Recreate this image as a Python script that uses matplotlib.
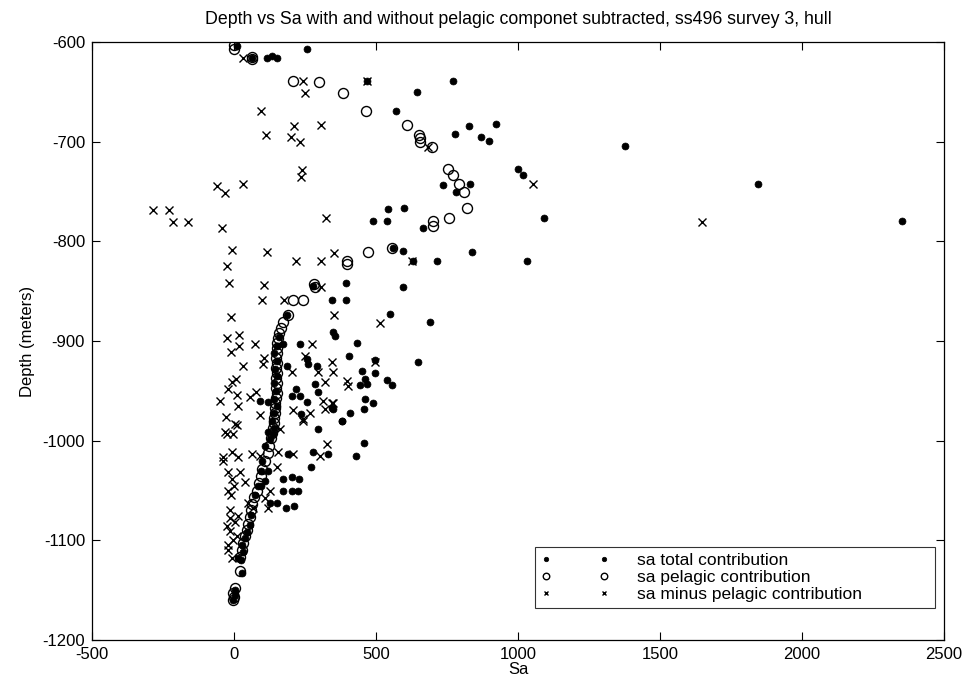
import matplotlib
matplotlib.use("Agg")
import matplotlib.pyplot as plt

plt.rcParams['font.family'] = ['Liberation Sans', 'DejaVu Sans']
plt.rcParams['axes.unicode_minus'] = False

# Total Sa per depth cell
total_depth = [
    -604, -607, -616, -616, -614, -616, -639, -639, -650, -669, -684, -682,
    -692, -695, -699, -704, -727, -733, -743, -742, -742, -751, -768, -767,
    -777, -780, -780, -780, -787, -807, -810, -811, -820, -820, -820,
    -842, -846, -845, -859, -859, -874, -873, -881,
    -891, -895, -902, -903, -903, -915, -921, -919, -918, -923, -925, -925,
    -930, -938, -943, -932, -939, -944, -944, -943,
    -951, -948, -955, -955, -961, -967, -958, -962, -968, -972, -980, -973,
    -960, -961, -968, -988, -980, -991, -993,
    -1002, -1015, -1013, -1011, -1013,
    -1026, -1038, -1036, -1038, -1051, -1051, -1050, -1063, -1063, -1068, -1066,
    -1105, -1118, -1133, -1150, -1160, -1155,
    -896, -905, -912, -920, -928, -935, -942, -950, -958, -965, -972, -980,
    -987, -998, -1005, -1020, -1030, -1045, -1055, -1075, -1085, -1092, -1098,
    -1112, -1120, -1030, -1040, -1045,
]
total_sa = [
    10, 257, 62, 115, 133, 152, 467, 772, 645, 570, 826, 923,
    777, 869, 899, 1377, 1001, 1016, 737, 831, 1844, 782, 543, 599,
    1093, 491, 540, 2353, 667, 559, 596, 837, 631, 714, 1031,
    393, 594, 279, 344, 393, 188, 549, 690,
    347, 356, 434, 232, 174, 405, 647, 496, 256, 262, 185, 293,
    449, 461, 467, 496, 540, 555, 444, 285,
    297, 220, 203, 232, 256, 344, 461, 488, 458, 408, 381, 235,
    92, 121, 347, 297, 379, 121, 138,
    458, 430, 191, 279, 332,
    271, 174, 203, 230, 174, 203, 226, 127, 150, 183, 212,
    27, 15, 27, 4, -2, 2,
    160, 150, 140, 150, 145, 150, 140, 148, 140, 150, 142, 135,
    140, 125, 110, 100, 95, 85, 75, 60, 55, 45, 40,
    30, 25, 120, 110, 95,
]

# Pelagic Sa per depth cell
pelagic_depth = [
    -603, -607, -615, -617, -639, -640, -651, -669, -683,
    -693, -696, -700, -705, -727, -733, -742, -751, -767,
    -777, -780, -785, -807, -811, -820, -823, -843, -846,
    -859, -859, -874, -881,
    -887, -892, -897, -902, -907, -912, -917, -922, -927, -932, -937, -942,
    -947, -952, -957, -962, -967, -972, -977, -982, -987, -992, -997,
    -1005, -1012, -1020, -1028, -1035, -1042, -1050, -1057, -1064, -1070,
    -1077, -1084, -1090, -1096, -1103, -1110, -1117,
    -1131, -1148, -1153, -1157, -1160,
]
pelagic_sa = [
    0, 0, 62, 62, 209, 300, 385, 464, 608,
    652, 655, 655, 696, 752, 772, 793, 810, 822,
    758, 700, 702, 555, 473, 397, 397, 282, 285,
    209, 242, 191, 171,
    165, 160, 155, 152, 150, 150, 148, 150, 148, 150, 148, 150,
    148, 150, 148, 146, 145, 145, 142, 140, 138, 135, 130,
    122, 118, 110, 100, 95, 88, 80, 72, 65, 60,
    55, 50, 45, 40, 33, 28, 22,
    21, 4, -2, 0, -2,
]

# Total minus pelagic Sa per depth cell
minus_depth = [
    -616, -639, -639, -651, -669, -684, -683,
    -693, -695, -700, -705, -728, -735,
    -744, -742, -742, -752, -769, -769,
    -777, -781, -781, -781, -787,
    -809, -811, -812, -820, -820, -820, -825,
    -842, -844, -846, -859, -859, -876, -874, -882,
    -897, -894, -905, -903, -903,
    -911, -915, -917, -923, -925, -921, -921,
    -931, -931, -941, -931, -940, -945, -938, -941, -948,
    -954, -965, -960, -956, -951, -960, -962, -968, -969, -978, -972, -974,
    -976, -962,
    -988, -983, -991, -993, -984, -993, -980,
    -1011, -1016, -1016, -1020, -1013, -1015, -1011, -1013, -1015, -1003,
    -1031, -1031, -1038, -1041, -1050, -1050, -1026, -1068, -1058, -1063, -1068,
    -1070, -1076, -1086, -1091, -1096, -1105, -1118, -1078, -1110,
    -1045, -1055, -1082, -1100,
]
minus_sa = [
    33, 244, 470, 250, 95, 211, 305,
    114, 201, 232, 683, 241, 235,
    -61, 33, 1054, -32, -284, -230,
    323, -216, -163, 1648, -41,
    -6, 115, 353, 217, 306, 625, -26,
    -16, 107, 306, 97, 176, -11, 353, 514,
    -26, 19, 19, 74, 273,
    -11, 250, 106, 101, 33, 346, 496,
    203, 297, 320, 350, 397, 402, 7, -8, -20,
    12, 15, -49, 56, 77, 315, 344, 320, 206, 244, 268, 92,
    -28, 347,
    162, 4, -32, -2, 9, -26, 244,
    -8, -38, 15, -38, 62, 92, 156, 209, 303, 326,
    -20, 21, -8, 39, -20, 127, 150, 121, 109, 50, 68,
    -14, 15, -26, -14, 9, -20, -8, -14, -20,
    0, -10, 5, -5,
]

x_ticks = [-500, 0, 500, 1000, 1500, 2000, 2500]
y_ticks = [-1200, -1100, -1000, -900, -800, -700, -600]

fig = plt.figure(figsize=(9.69, 6.87), dpi=100)
ax = fig.add_axes([92 / 969, 1 - 640 / 687, (944 - 92) / 969, (640 - 42) / 687])

ax.plot(total_sa, total_depth, linestyle='none', marker='o', markersize=5.0,
        markerfacecolor='black', markeredgecolor='black', markeredgewidth=0.5,
        label='sa total contribution')
ax.plot(pelagic_sa, pelagic_depth, linestyle='none', marker='o', markersize=7.2,
        markerfacecolor='none', markeredgecolor='black', markeredgewidth=1.0,
        label='sa pelagic contribution')
ax.plot(minus_sa, minus_depth, linestyle='none', marker='x', markersize=5.2,
        markeredgecolor='black', markeredgewidth=1.0,
        label='sa minus pelagic contribution')

ax.set_xlim(-500, 2500)
ax.set_ylim(-1200, -600)
ax.set_xticks(x_ticks)
ax.set_yticks(y_ticks)
ax.tick_params(direction='in', length=6, width=0.8, top=True, right=True,
               labelsize=12, colors='black', pad=5)
for s in ax.spines.values():
    s.set_linewidth(0.9)
    s.set_color('black')

ax.set_title('Depth vs Sa with and without pelagic componet subtracted, ss496 survey 3, hull',
             fontsize=12.8, pad=13)
ax.set_xlabel('Sa', fontsize=12, labelpad=0)
ax.set_ylabel('Depth (meters)', fontsize=12, labelpad=5)

leg = ax.legend(loc='lower left', bbox_to_anchor=(443 / 852, 32 / 598, 400 / 852, 0.1),
                mode='expand', numpoints=2, markerscale=0.65, fontsize=12.5,
                frameon=True, fancybox=False, handlelength=3.94,
                handletextpad=1.6, labelspacing=0.1, borderpad=0.35,
                borderaxespad=0.0)
leg.get_frame().set_edgecolor('black')
leg.get_frame().set_linewidth(0.8)

fig.savefig('out.png', dpi=100)
